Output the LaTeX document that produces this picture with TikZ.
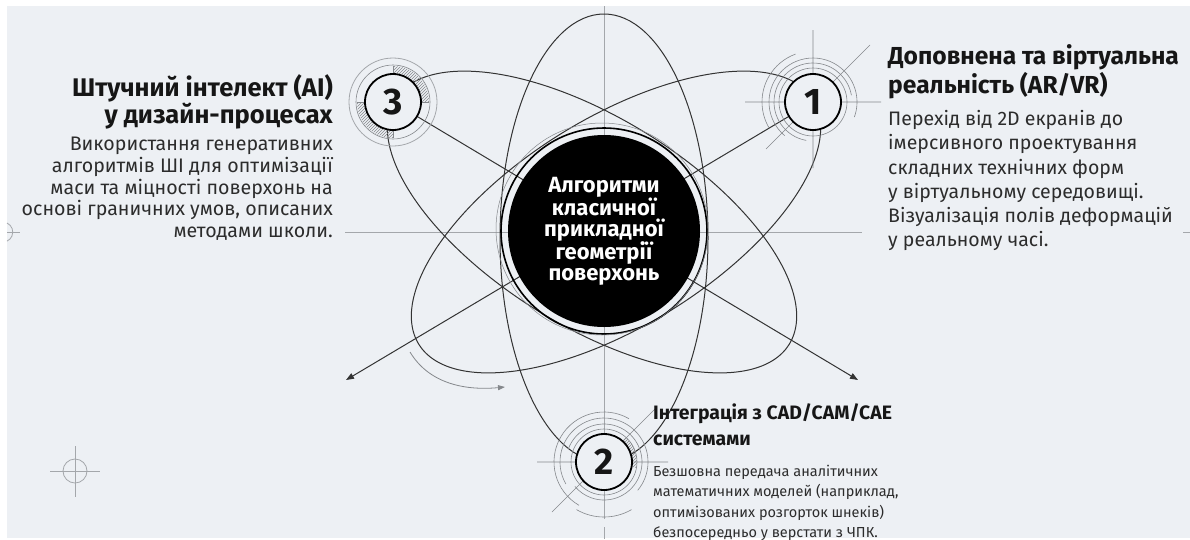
\documentclass[tikz,border=0pt]{standalone}
\usepackage{fontspec}
\setmainfont{Fira Sans}
\usetikzlibrary{arrows.meta}
\usetikzlibrary{patterns}

\definecolor{paper}{HTML}{EDF0F4}
\definecolor{ink}{HTML}{161616}
\definecolor{inkbody}{HTML}{2C2C2C}
\definecolor{orbitcol}{HTML}{333333}
\definecolor{guidecol}{HTML}{A4A7AB}
\definecolor{ringcol}{HTML}{85888C}

\tikzset{
  guide/.style={guidecol, line width=0.8pt},
  orbit/.style={orbitcol, line width=1pt},
  spoke/.style={orbitcol, line width=1pt, -{Triangle[length=8pt,width=6pt]}},
  ring/.style={ringcol, line width=0.6pt},
  hatch/.style={pattern=north east lines, pattern color=ringcol},
  numnode/.style={circle, draw=black, line width=1.8pt, fill=paper, minimum size=56pt,
    inner sep=0pt, text=ink, font=\bfseries\fontsize{37}{37}\selectfont},
  title/.style={inner sep=0pt, text=ink},
  body/.style={inner sep=0pt, text=inkbody},
}

\begin{document}
\begin{tikzpicture}[x=1pt, y=-1pt]

% page
\fill[white] (0,0) rectangle (1190,539);
\fill[paper] (7,6) rectangle (1190,538);
\useasboundingbox (0,0) rectangle (1190,539);

\coordinate (c0) at (604,231);
\coordinate (c1) at (813,102);
\coordinate (c2) at (604,462);
\coordinate (c3) at (393,102);
\coordinate (tipL) at (346,380);
\coordinate (tipR) at (858,380);

% guide cross
\draw[guide] (604,6) -- (604,519) (604,527) -- (604,539);
\draw[guide] (345,232) -- (862,232);
\draw[guide] (7,232) -- (20,232) (1183,232) -- (1190,232);
\draw[guide] (7,223) arc[start angle=-65, end angle=65, radius=10];
\draw[guide] (50,471) -- (100,471) (75,446) -- (75,497);
\draw[guide] (75,471) circle[radius=12];

% orbits
\draw[orbit] (604,238) ellipse[x radius=104, y radius=224];
\draw[orbit,smooth,variable=\t] plot[domain=0:360, samples=121]
  ({592+197.2*cos(\t)-54.8*sin(\t)}, {222+122.3*cos(\t)+88.4*sin(\t)});
\draw[orbit,smooth,variable=\t] plot[domain=0:360, samples=121]
  ({616-197.2*cos(\t)+54.8*sin(\t)}, {222+122.3*cos(\t)+88.4*sin(\t)});

% spokes
\draw[spoke] (c3) -- (tipR);
\draw[spoke] (c1) -- (tipL);
\draw[ring, line width=0.8pt, -{Triangle[length=7pt,width=5pt]}]
  (410,352) .. controls (428,382) and (462,391) .. (505,387);

% core
\draw[black, line width=1.6pt] (c0) circle[radius=103];
\draw[ringcol, line width=0.5pt] (602,229) circle[radius=106];
\node[circle, fill=black, minimum size=192pt, inner sep=0pt, text=white, align=center,
  font=\bfseries\fontsize{22}{20.5}\selectfont] (core) at (c0)
  {Алгоритми\\класичної\\прикладної\\геометрії\\поверхонь};

% marks round 1
\draw[ring] (c1) circle[radius=34];
\draw[ring] (c1) ++(100:39) arc[start angle=100, end angle=350, radius=39];
\draw[ring] (c1) ++(130:44) arc[start angle=130, end angle=380, radius=44];
\draw[ring] (c1) ++(150:51) arc[start angle=150, end angle=250, radius=51];
\draw[ring] (745,102) -- (881,102) (813,30) -- (813,168) (766,149) -- (870,45);

% marks round 2
\draw[ring] (c2) circle[radius=33];
\draw[ring] (c2) ++(200:38) arc[start angle=200, end angle=500, radius=38];
\draw[ring] (c2) ++(150:44) arc[start angle=150, end angle=400, radius=44];
\draw[ring] (c2) ++(120:50) arc[start angle=120, end angle=300, radius=50];
\draw[ring] (c2) ++(60:55) arc[start angle=60, end angle=120, radius=55];
\draw[ring] (537,462) -- (668,462) (552,512) -- (655,409);
\fill[hatch] (c2) ++(-50:27) arc[start angle=-50, end angle=10, radius=27]
  -- ++(10:6) arc[start angle=10, end angle=-50, radius=33] -- cycle;

% marks round 3
\draw[ring] (c3) circle[radius=37];
\draw[guide] (c3) circle[radius=44];
\fill[hatch] (c3) ++(-90:29) arc[start angle=-90, end angle=0, radius=29]
  -- ++(0:7) arc[start angle=0, end angle=-90, radius=36] -- cycle;
\fill[hatch] (c3) ++(90:29) arc[start angle=90, end angle=180, radius=29]
  -- ++(180:7) arc[start angle=180, end angle=90, radius=36] -- cycle;
\draw[ring] (c3) ++(-90:29) -- ++(-90:7) (c3) ++(0:29) -- ++(0:7);
\draw[ring] (c3) ++(90:29) -- ++(90:7) (c3) ++(180:29) -- ++(180:7);

% numbered nodes
\node[numnode] (n1) at (c1) {1};
\node[numnode] (n2) at (c2) {2};
\node[numnode] (n3) at (c3) {3};

% texts
\node[title, anchor=north west, align=left, font=\bfseries\fontsize{24.6}{29}\selectfont]
  (t1) at (888,44) {Доповнена та віртуальна\\реальність (AR/VR)};
\node[body, anchor=north west, align=left, font=\fontsize{19.5}{24.3}\selectfont]
  (b1) at (888,110) {Перехід від 2D екранів до\\імерсивного проектування\\складних технічних форм\\у віртуальному середовищі.\\Візуалізація полів деформацій\\у реальному часі.};

\node[title, anchor=north east, align=right, font=\bfseries\fontsize{25.5}{25}\selectfont]
  (t3) at (333,74) {Штучний інтелект (AI)\\у дизайн-процесах};
\node[body, anchor=north east, align=right, font=\fontsize{19.6}{21.7}\selectfont]
  (b3) at (333,137) {Використання генеративних\\алгоритмів ШІ для оптимізації\\маси та міцності поверхонь на\\основі граничних умов, описаних\\методами школи.};

\node[title, anchor=north west, align=left, font=\bfseries\fontsize{19.4}{26}\selectfont]
  (t2) at (653,403) {Інтеграція з CAD/CAM/CAE\\системами};
\node[body, anchor=north west, align=left, font=\fontsize{14.5}{20.3}\selectfont]
  (b2) at (653,465) {Безшовна передача аналітичних\\математичних моделей (наприклад,\\оптимізованих розгорток шнеків)\\безпосередньо у верстати з ЧПК.};

\end{tikzpicture}
\end{document}
